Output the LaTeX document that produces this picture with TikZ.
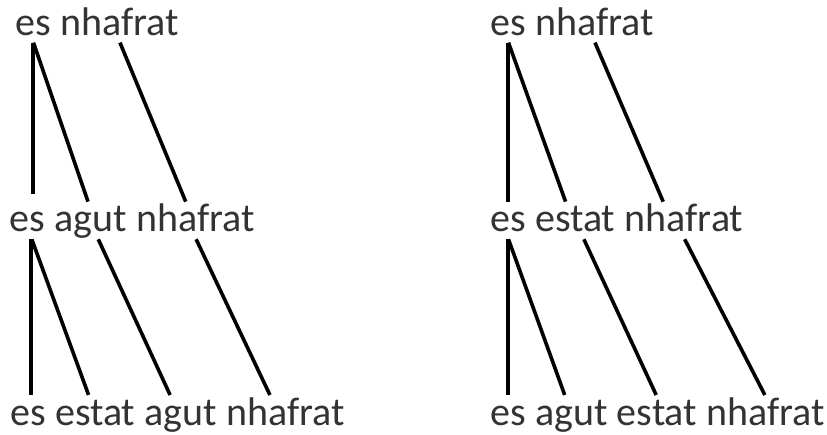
\documentclass[tikz,border=0pt]{standalone}
\usepackage{fontspec}
\setmainfont{Carlito}
\usepackage{xcolor}
\usetikzlibrary{positioning}
\definecolor{wordgray}{HTML}{333333}

\begin{document}
\begin{tikzpicture}[x=1pt,y=-1pt,
  word/.style={inner sep=0pt,text=wordgray,font=\fontsize{40}{48}\selectfont,text height=28pt,text depth=6pt},
  link/.style={line width=3.6pt,shorten <=1.5pt,shorten >=2pt},
  node distance=9pt]
\useasboundingbox (0,0) rectangle (827,434);
% left tree
\node[word,anchor=base west] (la1) at (15,35) {es};
\node[word,right=of la1] (la2) {nhafrat};
\node[word,anchor=base west] (lb1) at (9.3,231.7) {es};
\node[word,right=of lb1] (lb2) {agut};
\node[word,right=of lb2] (lb3) {nhafrat};
\node[word,anchor=base west] (lc1) at (10,425) {es};
\node[word,right=of lc1] (lc2) {estat};
\node[word,right=of lc2] (lc3) {agut};
\node[word,right=of lc3] (lc4) {nhafrat};
\coordinate (lapex) at ([xshift=4pt]lb1.south);
\draw[link,shorten >=10pt] (la1.south) -- (la1.south |- lb1.north);
\draw[link] (la1.south) -- ([xshift=-2pt]lb2.north);
\draw[link] (la2.south) -- ([xshift=-9pt]lb3.north);
\draw[link] (lapex) -- (lapex |- lc1.north);
\draw[link] (lapex) -- ([xshift=-6pt]lc2.north);
\draw[link] ([xshift=7pt]lb2.south) -- ([xshift=-10pt]lc3.north);
\draw[link] (lb3.south) -- ([xshift=-15pt]lc4.north);
% right tree
\node[word,anchor=base west] (ra1) at (490,35) {es};
\node[word,right=of ra1] (ra2) {nhafrat};
\node[word,anchor=base west] (rb1) at (490,231.7) {es};
\node[word,right=of rb1] (rb2) {estat};
\node[word,right=of rb2] (rb3) {nhafrat};
\node[word,anchor=base west] (rc1) at (490,425) {es};
\node[word,right=of rc1] (rc2) {agut};
\node[word,right=of rc2] (rc3) {estat};
\node[word,right=of rc3] (rc4) {nhafrat};
\draw[link] (ra1.south) -- (ra1.south |- rb1.north);
\draw[link] (ra1.south) -- ([xshift=-9pt]rb2.north);
\draw[link] (ra2.south) -- ([xshift=-20pt]rb3.north);
\draw[link] (rb1.south) -- (rb1.south |- rc1.north);
\draw[link] (rb1.south) -- ([xshift=-6pt]rc2.north);
\draw[link] ([xshift=8pt]rb2.south) -- (rc3.north);
\draw[link] (rb3.south) -- (rc4.north);
\end{tikzpicture}
\end{document}
